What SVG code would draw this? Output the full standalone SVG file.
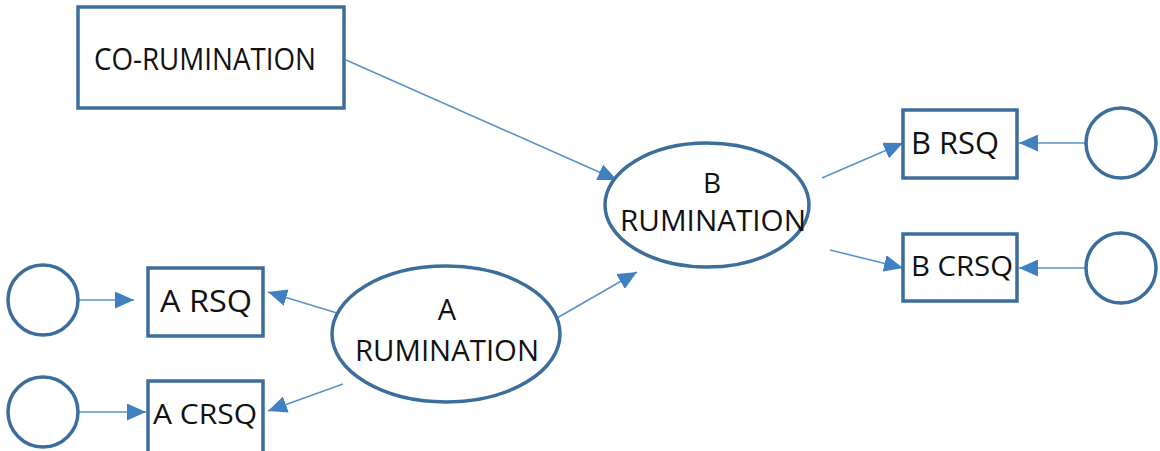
<svg xmlns="http://www.w3.org/2000/svg" width="1160" height="451" viewBox="0 0 1160 451">
  <style>
    .box { fill: #ffffff; stroke: #3c6e9c; stroke-width: 3.5; }
    .lat { fill: #ffffff; stroke: #3c6e9c; stroke-width: 3.5; }
    .edge { fill: none; stroke: #5a92c8; stroke-width: 1.6; }
    .lbl { font-family: "Open Sans", "Liberation Sans", sans-serif; fill: #111111; text-anchor: middle; }
  </style>
  <defs>
    <marker id="arr" markerUnits="userSpaceOnUse" markerWidth="19" markerHeight="17" viewBox="0 0 19 17" refX="19" refY="8.5" orient="auto">
      <path d="M0,0 L19,8.5 L0,17 Z" fill="#3f80c0"/>
    </marker>
  </defs>
  <rect width="1160" height="451" fill="#ffffff"/>

  <!-- connectors -->
  <g id="connectors">
    <line class="edge" x1="346" y1="60" x2="617" y2="180" marker-end="url(#arr)"/>
    <line class="edge" x1="550" y1="322" x2="637" y2="272" marker-end="url(#arr)"/>
    <line class="edge" x1="337" y1="313" x2="268" y2="292" marker-end="url(#arr)"/>
    <line class="edge" x1="343" y1="384" x2="268" y2="411" marker-end="url(#arr)"/>
    <line class="edge" x1="78" y1="300" x2="134" y2="300" marker-end="url(#arr)"/>
    <line class="edge" x1="78" y1="412" x2="146" y2="412" marker-end="url(#arr)"/>
    <line class="edge" x1="822" y1="178" x2="903" y2="143" marker-end="url(#arr)"/>
    <line class="edge" x1="830" y1="250" x2="903" y2="268" marker-end="url(#arr)"/>
    <line class="edge" x1="1086" y1="143" x2="1019" y2="143" marker-end="url(#arr)"/>
    <line class="edge" x1="1086" y1="268" x2="1019" y2="268" marker-end="url(#arr)"/>
  </g>

  <g id="co-rumination">
    <rect class="box" x="78" y="7" width="266" height="101"/>
    <text class="lbl" x="205" y="70" font-size="31" textLength="222" lengthAdjust="spacingAndGlyphs">CO-RUMINATION</text>
  </g>

  <g id="b-rumination">
    <ellipse class="lat" cx="707" cy="205" rx="102" ry="62"/>
    <text class="lbl" x="712" y="193" font-size="28">B</text>
    <text class="lbl" x="713" y="231" font-size="29" textLength="186" lengthAdjust="spacingAndGlyphs">RUMINATION</text>
  </g>

  <g id="a-rumination">
    <ellipse class="lat" cx="446" cy="334" rx="114" ry="68"/>
    <text class="lbl" x="447" y="320" font-size="29">A</text>
    <text class="lbl" x="447" y="361" font-size="30" textLength="184" lengthAdjust="spacingAndGlyphs">RUMINATION</text>
  </g>

  <g id="b-rsq">
    <rect class="box" x="903" y="110" width="114" height="68"/>
    <text class="lbl" x="955" y="154" font-size="31" textLength="88" lengthAdjust="spacingAndGlyphs">B RSQ</text>
  </g>

  <g id="b-crsq">
    <rect class="box" x="903" y="234" width="114" height="67"/>
    <text class="lbl" x="962" y="276" font-size="28" textLength="102" lengthAdjust="spacingAndGlyphs">B CRSQ</text>
  </g>

  <g id="a-rsq">
    <rect class="box" x="148" y="268" width="115" height="68"/>
    <text class="lbl" x="206" y="312" font-size="31" textLength="92" lengthAdjust="spacingAndGlyphs">A RSQ</text>
  </g>

  <g id="a-crsq">
    <rect class="box" x="148" y="381" width="115" height="72"/>
    <text class="lbl" x="205" y="424" font-size="28" textLength="104" lengthAdjust="spacingAndGlyphs">A CRSQ</text>
  </g>

  <g id="e-b-rsq"><circle class="lat" cx="1121" cy="143" r="35"/></g>
  <g id="e-b-crsq"><circle class="lat" cx="1121" cy="268" r="35"/></g>
  <g id="e-a-rsq"><circle class="lat" cx="43" cy="300" r="35"/></g>
  <g id="e-a-crsq"><circle class="lat" cx="43" cy="412" r="35"/></g>
</svg>
